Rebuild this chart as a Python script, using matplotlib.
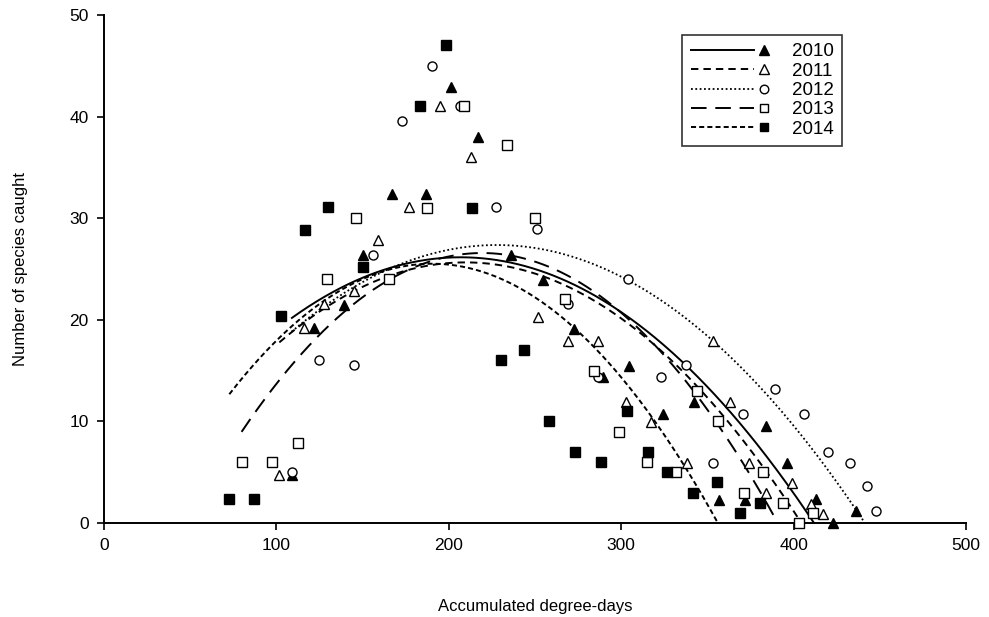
import numpy as np
import matplotlib
matplotlib.use("Agg")
import matplotlib.pyplot as plt
from matplotlib.lines import Line2D
from matplotlib.legend_handler import HandlerBase

plt.rcParams["font.family"] = ["Liberation Sans", "DejaVu Sans"]

years = ["2010", "2011", "2012", "2013", "2014"]

# Accumulated degree-days (x) and number of species caught (y), per year
x_2010 = [109, 122, 139.4, 150.4, 167.3, 186.5, 201.1, 217.1, 235.9, 254.9, 272.6,
          289.2, 304.7, 324, 342.2, 356.7, 371.8, 383.8, 396.3, 413, 423, 436.2]
y_2010 = [4.7, 19.2, 21.5, 26.4, 32.4, 32.4, 42.9, 38.0, 26.4, 23.9, 19.1,
          14.4, 15.5, 10.7, 11.9, 2.3, 2.3, 9.5, 5.9, 2.4, 0.0, 1.2]

x_2011 = [101.7, 116.2, 127.8, 145.2, 159.1, 177.1, 194.7, 212.9, 251.5, 269.3, 286.7,
          302.8, 317, 337.9, 353.4, 363.1, 374.3, 384, 398.8, 410, 417.2]
y_2011 = [4.7, 19.2, 21.6, 22.8, 27.9, 31.1, 41.0, 36.0, 20.3, 17.9, 17.9,
          11.9, 9.9, 5.9, 17.9, 11.9, 5.9, 3.0, 3.9, 1.9, 0.9]

x_2012 = [108.8, 124.9, 145, 155.8, 173, 190.4, 206.5, 227.2, 251, 268.9, 286.7,
          304.1, 323, 337.6, 353.4, 370.4, 389.2, 406, 419.9, 433, 442.8, 447.8]
y_2012 = [5.0, 16.0, 15.6, 26.4, 39.6, 45.0, 41.0, 31.1, 28.9, 21.6, 14.4,
          24.0, 14.4, 15.6, 5.9, 10.7, 13.2, 10.7, 7.0, 5.9, 3.6, 1.2]

x_2013 = [79.8, 97.3, 112.7, 129.2, 146.2, 165.3, 187.4, 209, 233.9, 250, 267.4,
          284.4, 298.5, 315.1, 331.8, 343.9, 356.3, 371.4, 382, 393.7, 403.3, 411]
y_2013 = [6.0, 6.0, 7.9, 24.0, 30.0, 24.0, 31.0, 41.0, 37.2, 30.0, 22.0,
          15.0, 9.0, 6.0, 5.0, 13.0, 10.0, 3.0, 5.0, 2.0, 0.0, 1.0]

x_2014 = [72.7, 87, 102.7, 116.6, 130.1, 150.4, 183.5, 198.1, 213.4, 230.1, 243.8,
          258.1, 273.2, 288.1, 303.1, 315.3, 326.7, 341.8, 355.7, 368.9, 380.5]
y_2014 = [2.4, 2.4, 20.4, 28.8, 31.1, 25.2, 41.0, 47.0, 31.0, 16.0, 17.0,
          10.0, 7.0, 6.0, 11.0, 7.0, 5.0, 3.0, 4.0, 1.0, 2.0]

xs = [x_2010, x_2011, x_2012, x_2013, x_2014]
ys = [y_2010, y_2011, y_2012, y_2013, y_2014]

markers = ["^", "^", "o", "s", "s"]
filled = [True, False, False, False, True]
msizes = [7.5, 7.0, 6.5, 6.5, 6.5]
linestyles = ["-", (0, (3.8, 2.6)), (0, (1, 1.4)), (0, (8, 4.5)), (0, (2.6, 1.6))]
linewidths = [1.4, 1.4, 1.3, 1.4, 1.4]

fig = plt.figure(figsize=(9.89, 6.17), dpi=100)
ax = fig.add_axes([104 / 989, 1 - 523 / 617, 862 / 989, 508 / 617])

for x, y, m, f, ms, ls, lw in zip(xs, ys, markers, filled, msizes, linestyles, linewidths):
    x = np.asarray(x)
    y = np.asarray(y)
    # second-order polynomial trend for the year
    coef = np.polyfit(x, y, 2)
    xx = np.linspace(x.min(), x.max(), 400)
    yy = np.polyval(coef, xx)
    yy = np.where(yy >= 0, yy, np.nan)
    ax.plot(xx, yy, color="black", linestyle=ls, linewidth=lw, zorder=2)
    ax.plot(x, y, linestyle="none", marker=m, markersize=ms,
            markerfacecolor="black" if f else "white",
            markeredgecolor="black", markeredgewidth=1.0, zorder=3, clip_on=False)

ax.set_xlim(0, 500)
ax.set_ylim(0, 50)
ax.set_xticks([0, 100, 200, 300, 400, 500])
ax.set_yticks([0, 10, 20, 30, 40, 50])
for s in ["top", "right"]:
    ax.spines[s].set_visible(False)
for s in ["left", "bottom"]:
    ax.spines[s].set_linewidth(1.4)
ax.tick_params(direction="out", length=5, width=1.2, labelsize=12.5, pad=6)
ax.set_xlabel("Accumulated degree-days", fontsize=12, labelpad=33)
ax.set_ylabel("Number of species caught", fontsize=12, labelpad=30)


class LineThenMarker(HandlerBase):
    def create_artists(self, legend, orig_handle, xdescent, ydescent, width, height,
                       fontsize, trans):
        ls, lw, m, f, ms = orig_handle
        yc = height / 2 - ydescent
        line = Line2D([-xdescent, -xdescent + width * 0.8], [yc, yc], color="black",
                      linestyle=ls, linewidth=lw)
        mk = Line2D([-xdescent + width * 0.935], [yc], linestyle="none", marker=m,
                    markersize=ms * 0.95, markerfacecolor="black" if f else "white",
                    markeredgecolor="black", markeredgewidth=1.0)
        line.set_transform(trans)
        mk.set_transform(trans)
        return [line, mk]


handles = [(ls, lw, m, f, ms) for ls, lw, m, f, ms in
           zip(linestyles, linewidths, markers, filled, msizes)]
leg = ax.legend(handles, years, handler_map={tuple: LineThenMarker()},
                loc="upper left", bbox_to_anchor=(0.671, 0.961), borderaxespad=0,
                fontsize=13.5, handlelength=4.2, handletextpad=1.2, labelspacing=0.12,
                frameon=True, fancybox=False, borderpad=0.45)
leg.get_frame().set_edgecolor("black")
leg.get_frame().set_linewidth(1.2)

fig.savefig("out.png", dpi=100)
